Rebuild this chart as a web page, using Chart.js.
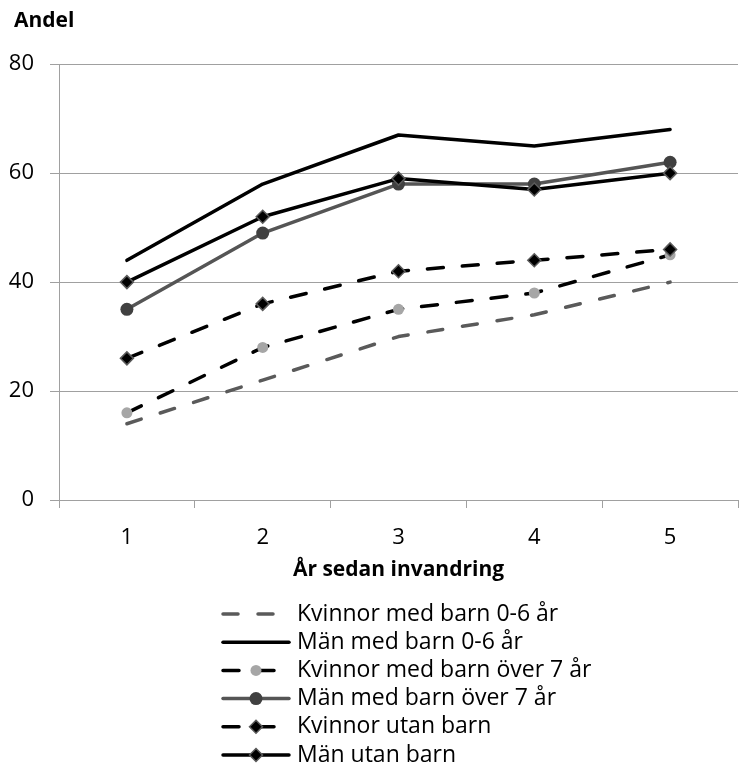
<!DOCTYPE html>
<html>
<head>
<meta charset="utf-8">
<script src="https://cdn.jsdelivr.net/npm/chart.js@4/dist/chart.umd.min.js"></script>
<style>
html, body { margin: 0; padding: 0; overflow: hidden; background: #fff; width: 739px; height: 770px; }
#wrap { width: 746px; height: 770px; }
canvas { display: block; }
</style>
</head>
<body>
<div id="wrap"><canvas id="c" width="746" height="770"></canvas></div>
<script>
// ---- data ----
const categories = ['1', '2', '3', '4', '5'];
const seriesNames = [
  'Kvinnor med barn 0-6 år',
  'Män med barn 0-6 år',
  'Kvinnor med barn över 7 år',
  'Män med barn över 7 år',
  'Kvinnor utan barn',
  'Män utan barn'
];
const kvinnorBarn06 = [14, 22, 30, 34, 40];
const manBarn06 = [44, 58, 67, 65, 68];
const kvinnorBarnOver7 = [16, 28, 35, 38, 45];
const manBarnOver7 = [35, 49, 58, 58, 62];
const kvinnorUtanBarn = [26, 36, 42, 44, 46];
const manUtanBarn = [40, 52, 59, 57, 60];
const yTicks = [0, 20, 40, 60, 80];
const yTitle = 'Andel';
const xTitle = 'År sedan invandring';

const FONT = "'Open Sans', sans-serif";
const GRID = '#a0a0a0';

const common = { tension: 0, borderWidth: 3.5, borderCapStyle: 'round', borderJoinStyle: 'round', fill: false };

const datasets = [
  Object.assign({}, common, { label: seriesNames[0], data: kvinnorBarn06, borderColor: '#5a5a5a', borderDash: [15, 20], pointRadius: 0 }),
  Object.assign({}, common, { label: seriesNames[1], data: manBarn06, borderColor: '#000000', pointRadius: 0 }),
  Object.assign({}, common, { label: seriesNames[2], data: kvinnorBarnOver7, borderColor: '#000000', borderDash: [16, 19],
    pointStyle: 'circle', pointRadius: 5.5, pointBackgroundColor: '#a6a6a6', pointBorderColor: '#a6a6a6', pointBorderWidth: 0 }),
  Object.assign({}, common, { label: seriesNames[3], data: manBarnOver7, borderColor: '#555555',
    pointStyle: 'circle', pointRadius: 6.5, pointBackgroundColor: '#404040', pointBorderColor: '#404040', pointBorderWidth: 0 }),
  Object.assign({}, common, { label: seriesNames[4], data: kvinnorUtanBarn, borderColor: '#000000', borderDash: [16, 19],
    pointStyle: 'rectRot', pointRadius: 6.5, pointBackgroundColor: '#000000', pointBorderColor: '#5a5a5a', pointBorderWidth: 1.5 }),
  Object.assign({}, common, { label: seriesNames[5], data: manUtanBarn, borderColor: '#000000',
    pointStyle: 'rectRot', pointRadius: 6.5, pointBackgroundColor: '#000000', pointBorderColor: '#5a5a5a', pointBorderWidth: 1.5 })
];
datasets.forEach((d, i) => { d.order = datasets.length - i; d.pointHoverRadius = d.pointRadius; });

// legend drawn on the canvas, one entry per row
const LEG = { lineX0: 223, lineX1: 289, markX: 256, textX: 297, top: 614, row: 28.2, font: '23px ' + FONT };
const TITLE_LEFT = 14;

const stackedLegend = {
  id: 'stackedLegend',
  afterLayout(chart) {
    if (chart.titleBlock) { chart.titleBlock.left = TITLE_LEFT; }
  },
  afterDraw(chart) {
    const ctx = chart.ctx;
    ctx.save();
    chart.data.datasets.forEach((ds, i) => {
      const y = LEG.top + i * LEG.row;
      ctx.beginPath();
      ctx.setLineDash(ds.borderDash || []);
      ctx.lineWidth = ds.borderWidth;
      ctx.strokeStyle = ds.borderColor;
      ctx.lineCap = ds.borderCapStyle || 'butt';
      ctx.moveTo(LEG.lineX0, y);
      ctx.lineTo(LEG.lineX1, y);
      ctx.stroke();
      ctx.setLineDash([]);
      if (ds.pointRadius > 0) {
        ctx.fillStyle = ds.pointBackgroundColor;
        ctx.strokeStyle = ds.pointBorderColor;
        ctx.lineWidth = ds.pointBorderWidth;
        Chart.helpers.drawPoint(ctx, { pointStyle: ds.pointStyle, radius: ds.pointRadius, borderWidth: ds.pointBorderWidth, rotation: 0 }, LEG.markX, y);
      }
      ctx.fillStyle = '#000';
      ctx.font = LEG.font;
      ctx.textBaseline = 'middle';
      ctx.textAlign = 'left';
      ctx.fillText(ds.label, LEG.textX, y);
    });
    ctx.restore();
  }
};

new Chart(document.getElementById('c'), {
  type: 'line',
  data: { labels: categories, datasets: datasets },
  plugins: [stackedLegend],
  options: {
    responsive: false,
    animation: false,
    devicePixelRatio: 1,
    layout: { padding: { left: 0, right: 0, top: 0, bottom: 186 } },
    plugins: {
      legend: { display: false },
      tooltip: { enabled: false },
      title: {
        display: true, text: yTitle, align: 'start', color: '#000',
        font: { family: FONT, size: 21, weight: 'bold', lineHeight: 1.2 },
        padding: { top: 8, bottom: 31 }
      }
    },
    scales: {
      x: {
        type: 'category',
        offset: true,
        afterFit(scale) { scale.height = 84; },
        grid: { display: true, drawOnChartArea: false, drawTicks: true, tickLength: 8, offset: true, color: GRID, lineWidth: 1 },
        border: { display: true, color: GRID, width: 1 },
        ticks: { color: '#000', font: { family: FONT, size: 22, lineHeight: 1.2 }, padding: 17, maxRotation: 0 },
        title: { display: true, text: xTitle, color: '#000', font: { family: FONT, size: 21, weight: 'bold', lineHeight: 1.2 }, padding: { top: 2, bottom: 1 } }
      },
      y: {
        min: 0, max: 80,
        afterBuildTicks(scale) { scale.ticks = yTicks.map(v => ({ value: v })); },
        afterFit(scale) { scale.width = 59; },
        grid: { display: true, drawTicks: true, tickLength: 9, color: GRID, lineWidth: 1 },
        border: { display: true, color: GRID, width: 1 },
        ticks: { color: '#000', font: { family: FONT, size: 22, lineHeight: 1.2 }, padding: 16 }
      }
    }
  }
});
</script>
</body>
</html>
